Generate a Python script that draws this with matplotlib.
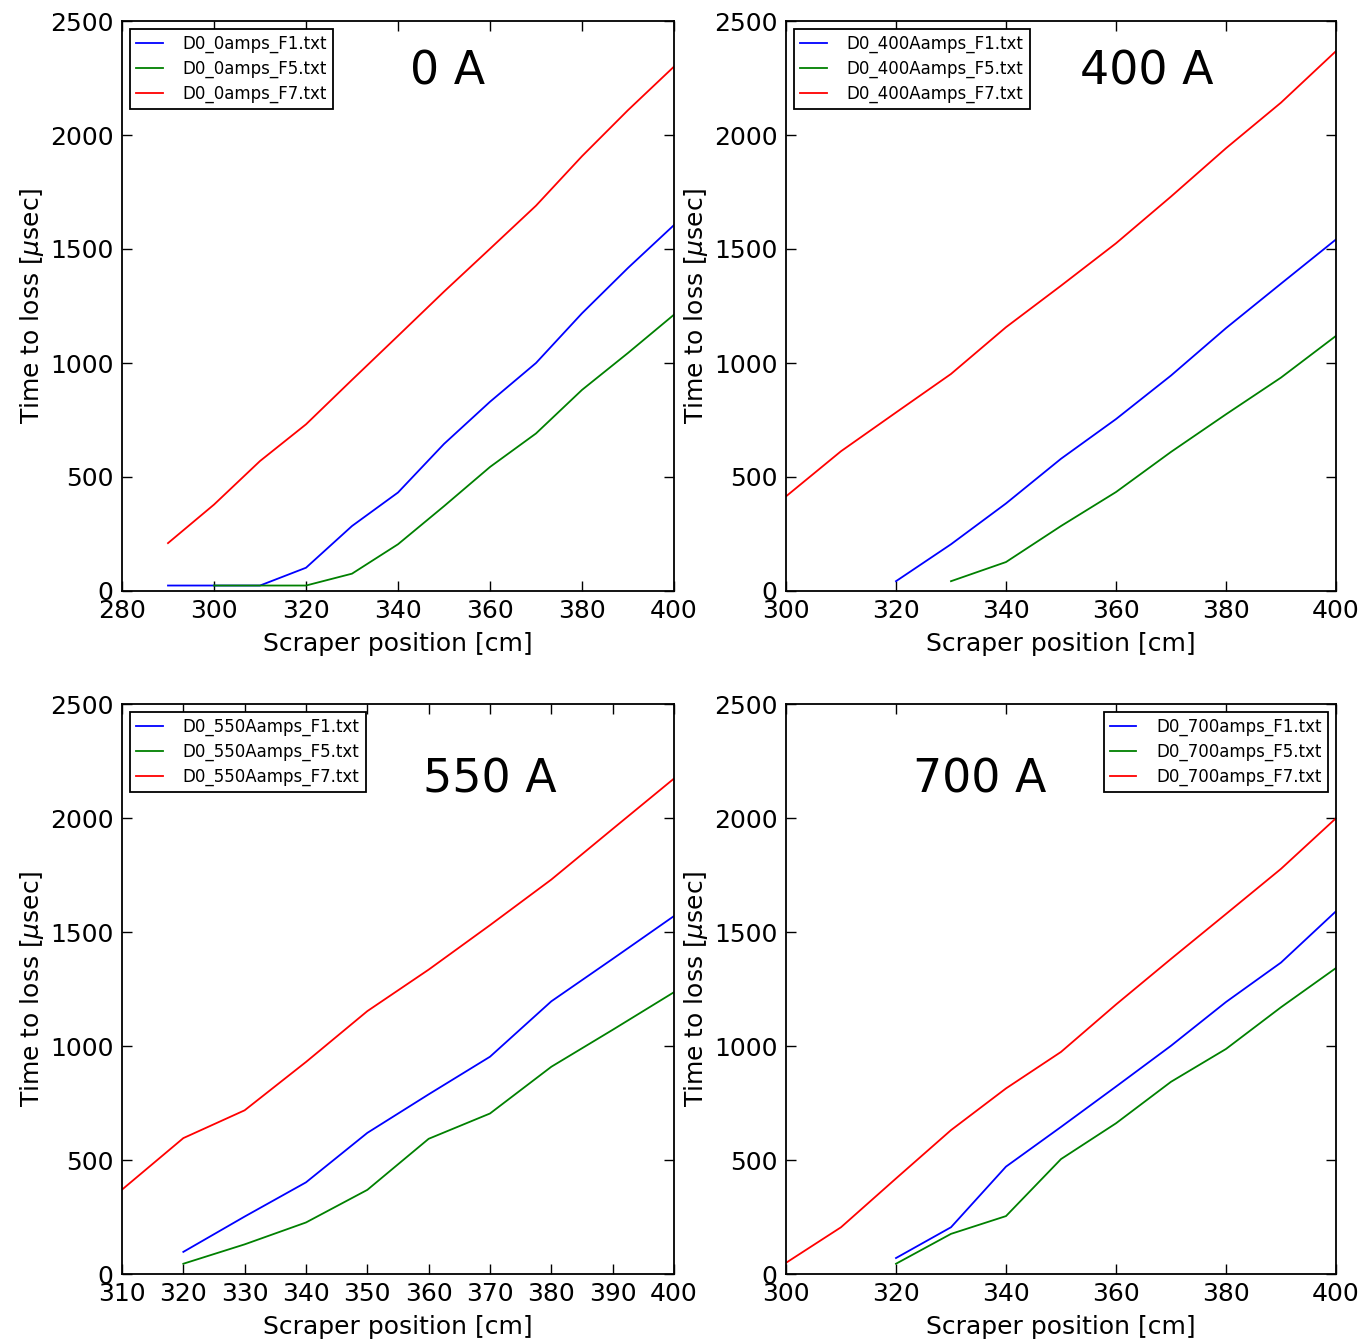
import matplotlib
matplotlib.use('Agg')
import matplotlib.pyplot as plt

# scraper positions [cm] and time to loss [usec]
x0_f1 = [290, 300, 310, 320, 330, 340, 350, 360, 370, 380, 390, 400]
y0_f1 = [24, 24, 24, 102, 285, 432, 645, 830, 1000, 1218, 1417, 1605]
x0_f5 = [300, 310, 320, 330, 340, 350, 360, 370, 380, 390, 400]
y0_f5 = [24, 24, 24, 76, 205, 372, 544, 691, 882, 1044, 1212]
x0_f7 = [290, 300, 310, 320, 330, 340, 350, 360, 370, 380, 390, 400]
y0_f7 = [210, 379, 570, 731, 926, 1119, 1313, 1501, 1690, 1907, 2109, 2300]

x400_f1 = [320, 330, 340, 350, 360, 370, 380, 390, 400]
y400_f1 = [43, 205, 384, 580, 754, 945, 1153, 1348, 1542]
x400_f5 = [330, 340, 350, 360, 370, 380, 390, 400]
y400_f5 = [43, 127, 285, 434, 610, 775, 936, 1119]
x400_f7 = [300, 310, 320, 330, 340, 350, 360, 370, 380, 390, 400]
y400_f7 = [415, 613, 783, 952, 1157, 1339, 1525, 1730, 1942, 2142, 2368]

x550_f1 = [320, 330, 340, 350, 360, 370, 380, 390, 400]
y550_f1 = [97, 252, 402, 619, 788, 953, 1196, 1382, 1570]
x550_f5 = [320, 330, 340, 350, 360, 370, 380, 390, 400]
y550_f5 = [45, 130, 226, 369, 593, 704, 909, 1071, 1236]
x550_f7 = [310, 320, 330, 340, 350, 360, 370, 380, 390, 400]
y550_f7 = [370, 596, 718, 930, 1153, 1335, 1530, 1730, 1952, 2173]

x700_f1 = [320, 330, 340, 350, 360, 370, 380, 390, 400]
y700_f1 = [70, 205, 471, 645, 822, 1001, 1193, 1366, 1591]
x700_f5 = [320, 330, 340, 350, 360, 370, 380, 390, 400]
y700_f5 = [45, 176, 254, 504, 661, 843, 987, 1170, 1342]
x700_f7 = [300, 310, 320, 330, 340, 350, 360, 370, 380, 390, 400]
y700_f7 = [49, 205, 419, 631, 814, 974, 1182, 1382, 1579, 1777, 1999]

W, H = 1362, 1342
fig = plt.figure(figsize=(W/100.0, H/100.0), dpi=100)

def box(l, t, r, b):
    return [l/float(W), 1-b/float(H), (r-l)/float(W), (b-t)/float(H)]

panels = [
    (box(122, 21, 674, 591), '0amps', '0 A', (x0_f1, y0_f1, x0_f5, y0_f5, x0_f7, y0_f7),
     (280, 400), range(280, 401, 20), 'upper left', (0.59, 0.91)),
    (box(786, 21, 1336, 591), '400Aamps', '400 A', (x400_f1, y400_f1, x400_f5, y400_f5, x400_f7, y400_f7),
     (300, 400), range(300, 401, 20), 'upper left', (0.656, 0.91)),
    (box(122, 704, 674, 1274), '550Aamps', '550 A', (x550_f1, y550_f1, x550_f5, y550_f5, x550_f7, y550_f7),
     (310, 400), range(310, 401, 10), 'upper left', (0.667, 0.867)),
    (box(786, 704, 1336, 1274), '700amps', '700 A', (x700_f1, y700_f1, x700_f5, y700_f5, x700_f7, y700_f7),
     (300, 400), range(300, 401, 20), 'upper right', (0.353, 0.867)),
]

for rect, tag, title, d, xl, xt, loc, tpos in panels:
    ax = fig.add_axes(rect)
    ax.plot(d[0], d[1], 'b', lw=1.3, label='D0_%s_F1.txt' % tag)
    ax.plot(d[2], d[3], 'g', lw=1.3, label='D0_%s_F5.txt' % tag)
    ax.plot(d[4], d[5], 'r', lw=1.3, label='D0_%s_F7.txt' % tag)
    ax.set_xlim(xl)
    ax.set_ylim(0, 2500)
    ax.set_xticks(list(xt))
    ax.set_yticks(range(0, 2501, 500))
    ax.tick_params(direction='in', top=True, right=True, length=7, width=1,
                   labelsize=18, pad=6)
    for s in ax.spines.values():
        s.set_linewidth(1.3)
    ax.set_xlabel('Scraper position [cm]', fontsize=18, labelpad=6)
    ax.set_ylabel(r'Time to loss [$\mu$sec]', fontsize=18, labelpad=3)
    leg = ax.legend(loc=loc, fontsize=12, fancybox=False, framealpha=1,
                    edgecolor='black', handlelength=1.6, borderaxespad=0.5,
                    handletextpad=1.2, labelspacing=0.4, borderpad=0.35)
    leg.get_frame().set_linewidth(1.3)
    ax.text(tpos[0], tpos[1], title, transform=ax.transAxes, fontsize=33,
            ha='center', va='center')

fig.savefig('out.png', dpi=100)
